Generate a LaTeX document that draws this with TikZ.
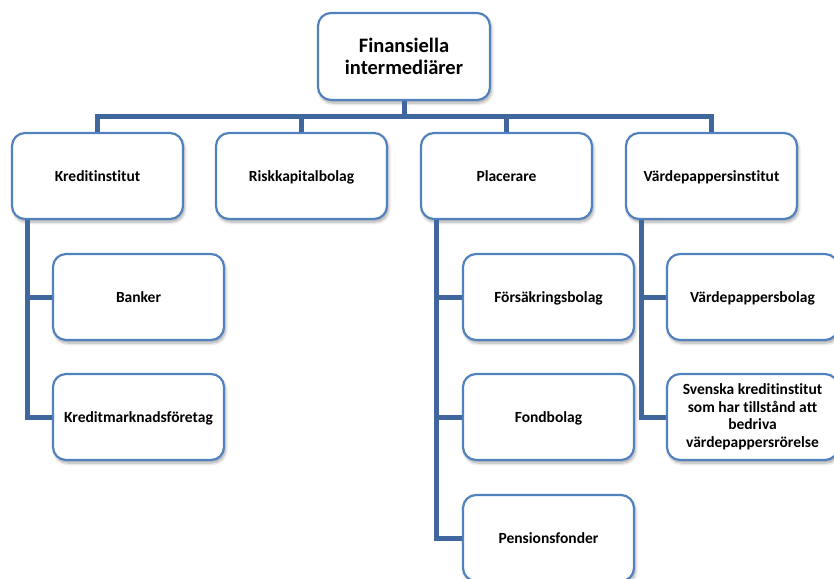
\documentclass[tikz,border=0pt]{standalone}
\usepackage{fontspec}
\setmainfont{Carlito}[Ligatures=NoCommon]
\usetikzlibrary{shadows.blur}
\definecolor{connblue}{RGB}{63,103,157}
\definecolor{boxblue}{RGB}{82,130,190}
\begin{document}
\begin{tikzpicture}[x=1pt,y=-1pt,
  boxstyle/.style={draw=boxblue, line width=2.2pt, fill=white, rounded corners=13pt,
    minimum width=171pt, minimum height=86pt, inner sep=2pt, align=center,
    font=\fontsize{15.5}{17.5}\selectfont\bfseries,
    text height=12pt, text depth=2pt,
    blur shadow={shadow xshift=1.5pt, shadow yshift=-3pt, shadow blur steps=6, shadow opacity=35, shadow blur radius=3pt}},
  multi/.style={text height={}, text depth={}},
  conn/.style={draw=connblue, line width=5pt, line join=miter}]
\useasboundingbox (0,0) rectangle (834,578);
\clip (0,0) rectangle (834,578);
% nodes
\node[boxstyle, multi, minimum width=172pt, minimum height=87pt, font=\fontsize{20.5}{22}\selectfont\bfseries] (root) at (404,56.5) {Finansiella\\intermediärer};
\node[boxstyle] (k1) at (97.5,176) {Kreditinstitut};
\node[boxstyle] (k2) at (301.5,176) {Riskkapitalbolag};
\node[boxstyle] (k3) at (506.5,176) {Placerare};
\node[boxstyle] (k4) at (711.5,176) {Värdepappersinstitut};
\node[boxstyle] (b1) at (138.5,297) {Banker};
\node[boxstyle] (b2) at (138.5,417) {Kreditmarknadsföretag};
\node[boxstyle] (p1) at (548.5,297) {Försäkringsbolag};
\node[boxstyle] (p2) at (548.5,417) {Fondbolag};
\node[boxstyle] (p3) at (548.5,538) {Pensionsfonder};
\node[boxstyle] (v1) at (752.5,297) {Värdepappersbolag};
\node[boxstyle, multi] (v2) at (752.5,417) {Svenska kreditinstitut\\som har tillstånd att\\bedriva\\värdepappersrörelse};
% connectors
\coordinate (bar) at (404,116);
\foreach \k in {k1,k2,k3,k4}{
  \draw[conn] (root.south) -- (bar) -| (\k.north);
}
\draw[conn] ([xshift=17pt]k1.south west) |- (b1.west);
\draw[conn] ([xshift=17pt]k1.south west) |- (b2.west);
\draw[conn] ([xshift=17pt]k3.south west) |- (p1.west);
\draw[conn] ([xshift=17pt]k3.south west) |- (p2.west);
\draw[conn] ([xshift=17pt]k3.south west) |- (p3.west);
\draw[conn] ([xshift=17pt]k4.south west) |- (v1.west);
\draw[conn] ([xshift=17pt]k4.south west) |- (v2.west);
\end{tikzpicture}
\end{document}
